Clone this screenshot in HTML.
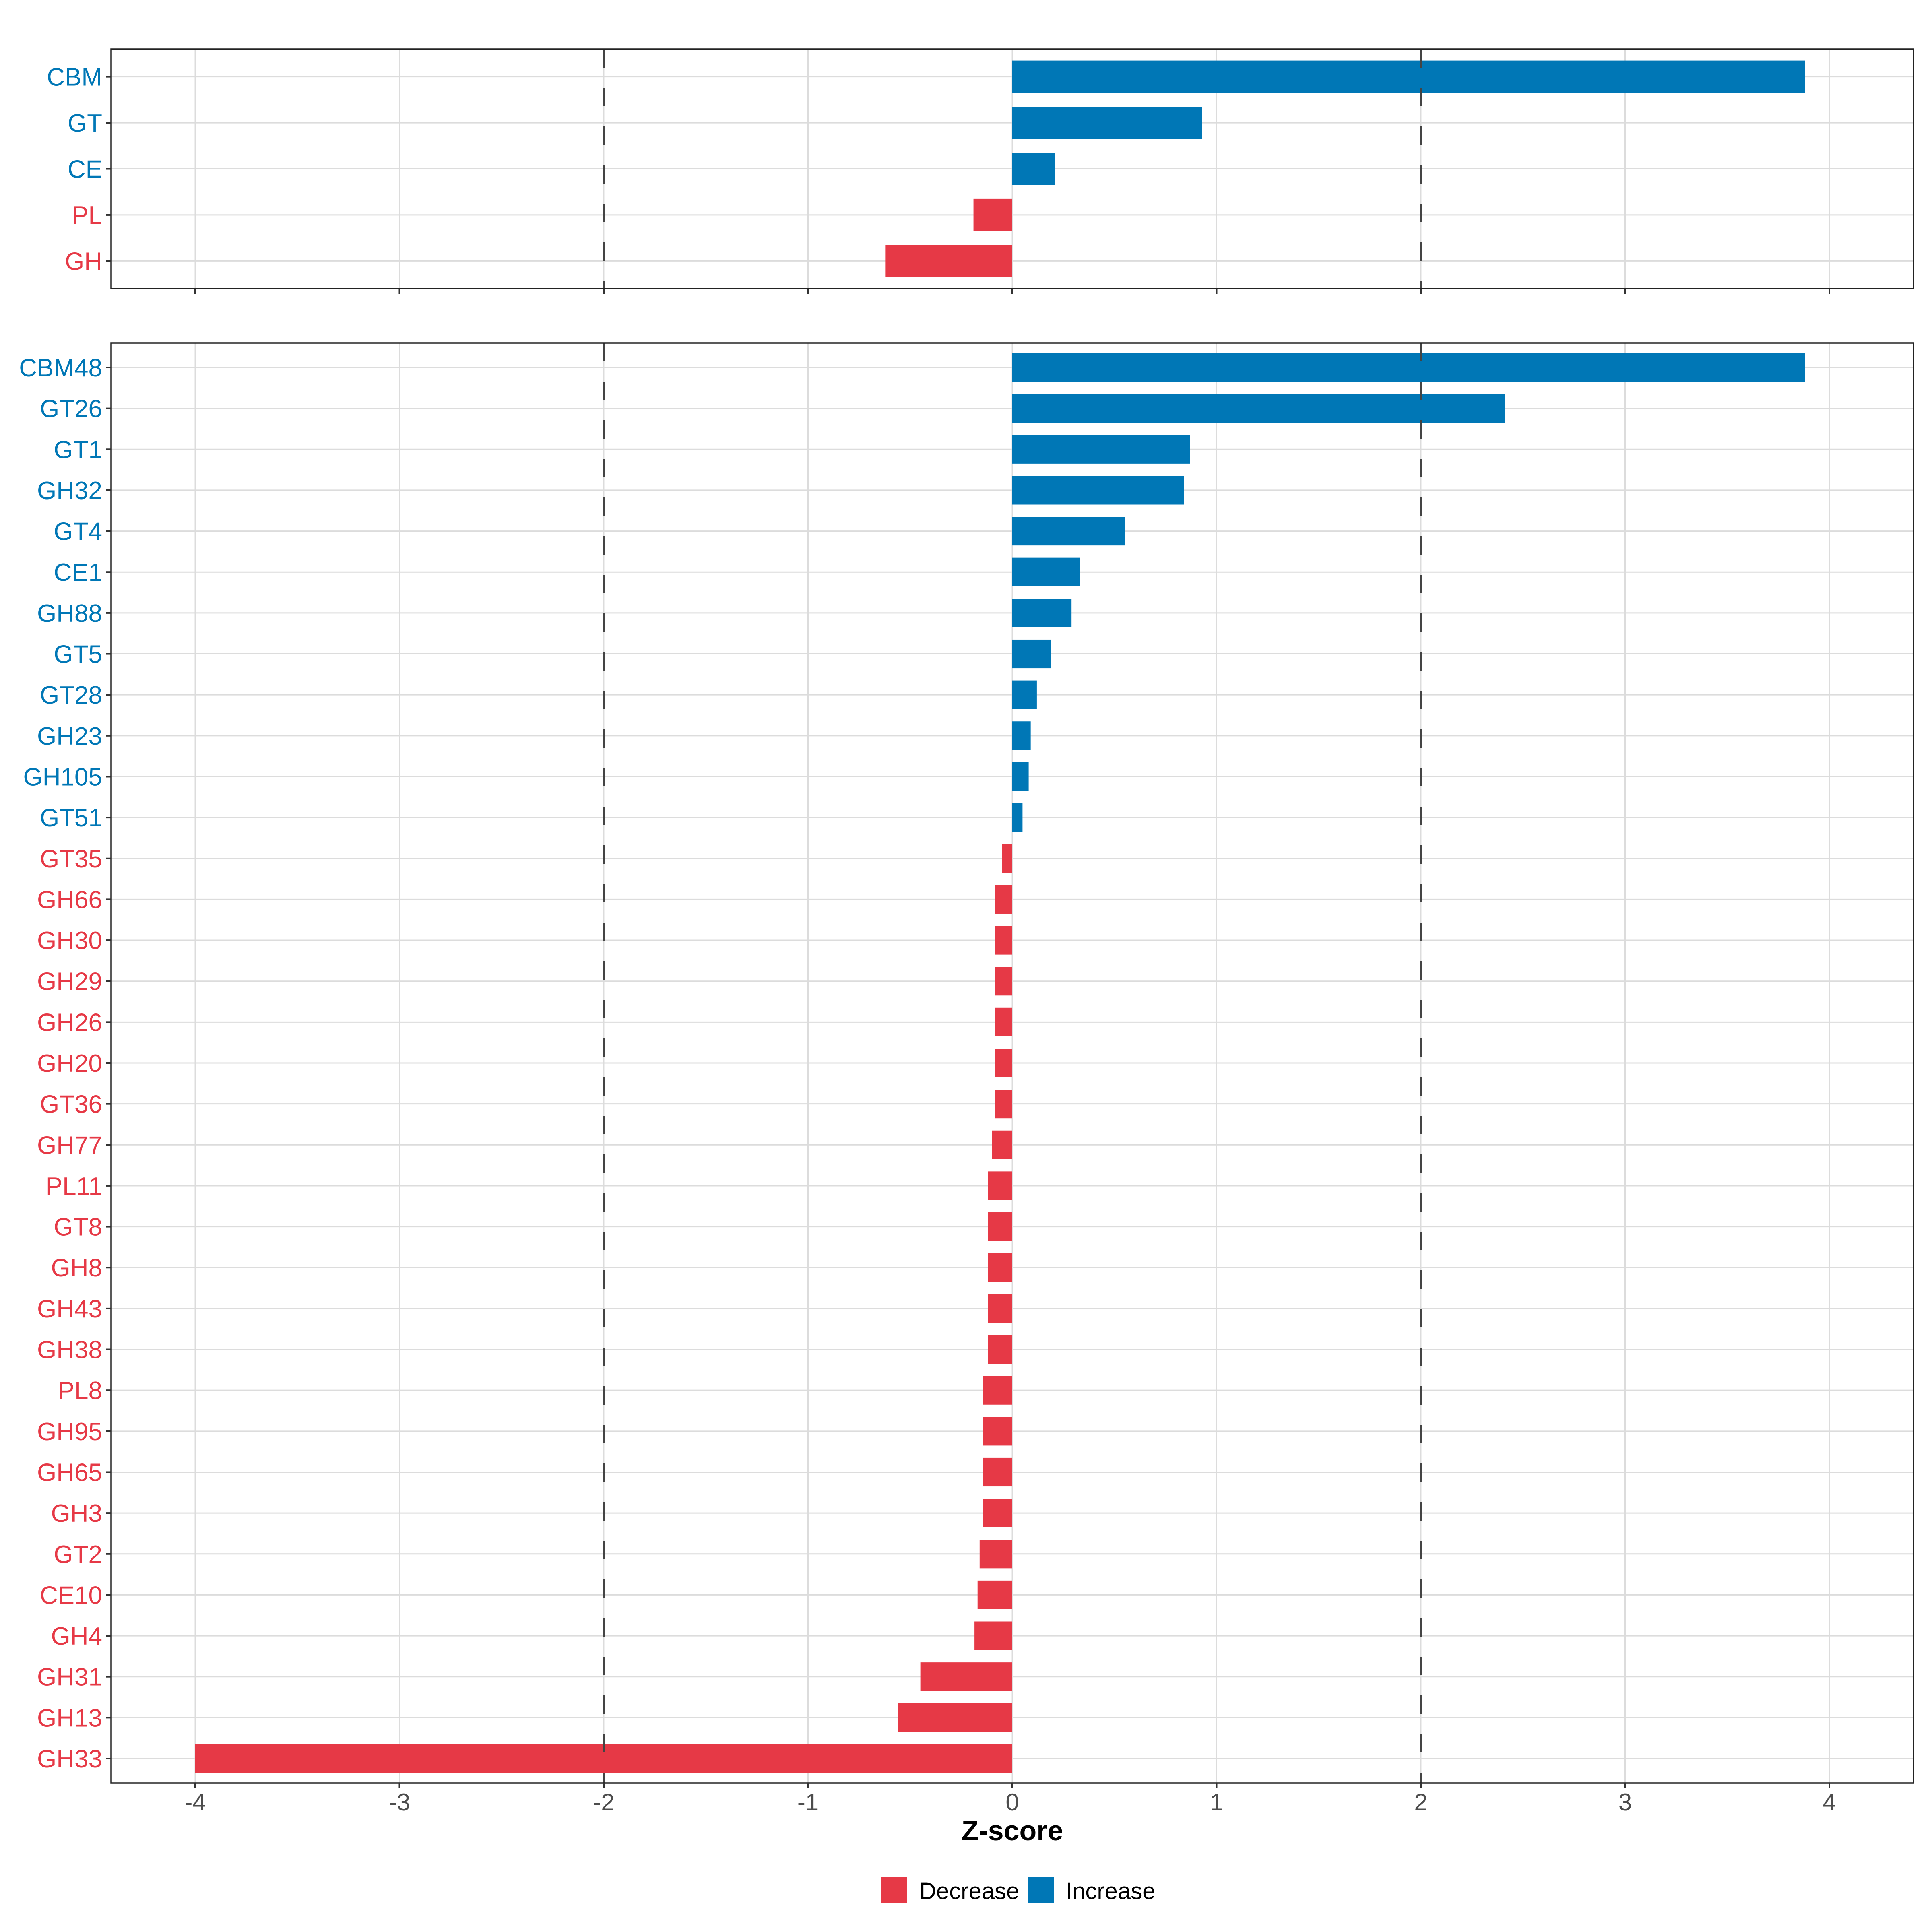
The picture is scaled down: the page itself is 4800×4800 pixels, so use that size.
<!DOCTYPE html>
<html><head><meta charset="utf-8">
<style>
html,body{margin:0;padding:0;background:#fff;}
svg{display:block;font-family:"Liberation Sans",Arial,sans-serif;}
</style></head>
<body>
<svg id="chart" width="4800" height="4800" viewBox="0 0 4800 4800" xmlns="http://www.w3.org/2000/svg"></svg>
<script>
const topCategories = ["CBM","GT","CE","PL","GH"];
const topValues = [3.88,0.93,0.21,-0.19,-0.62];
const bottomCategories = ["CBM48","GT26","GT1","GH32","GT4","CE1","GH88","GT5","GT28","GH23","GH105","GT51","GT35","GH66","GH30","GH29","GH26","GH20","GT36","GH77","PL11","GT8","GH8","GH43","GH38","PL8","GH95","GH65","GH3","GT2","CE10","GH4","GH31","GH13","GH33"];
const bottomValues = [3.88,2.41,0.87,0.84,0.55,0.33,0.29,0.19,0.12,0.09,0.08,0.05,-0.05,-0.085,-0.085,-0.085,-0.085,-0.085,-0.085,-0.10,-0.12,-0.12,-0.12,-0.12,-0.12,-0.145,-0.145,-0.145,-0.145,-0.16,-0.17,-0.185,-0.45,-0.56,-4.0];
const xTicks = [-4,-3,-2,-1,0,1,2,3,4];
const thresholds = [-2,2];

const NS="http://www.w3.org/2000/svg";
const svg=document.getElementById('chart');
const BLUE="#0077B6", RED="#E63946";
const L=276, R=4754;
const xScale=v=>2515+v*507.5;
function mk(tag,attrs,parent){const e=document.createElementNS(NS,tag);for(const k in attrs)e.setAttribute(k,attrs[k]);(parent||svg).appendChild(e);return e;}

function panel(cats,vals,top,bottom,name,showLabels){
  const g=mk('g',{});
  
  
  const n=cats.length;
  const step=(bottom-top)/(n-1+1.2);
  const yScale=i=>top+step*(0.6+i);
  // grid
  xTicks.forEach(t=>{const l=mk('line',{x1:xScale(t),x2:xScale(t),y1:top,y2:bottom,stroke:'#dcdcdc','stroke-width':3},g);
    
    });
  cats.forEach((c,i)=>{const l=mk('line',{x1:L,x2:R,y1:yScale(i),y2:yScale(i),stroke:'#dcdcdc','stroke-width':3},g);
    
    });
  // bars
  const bh=step*0.7;
  vals.forEach((v,i)=>{
    const x0=xScale(Math.min(0,v)), x1=xScale(Math.max(0,v));
    const r=mk('rect',{x:x0,y:yScale(i)-bh/2,width:x1-x0,height:bh,fill:v>=0?BLUE:RED},g);
    
    
  });
  // thresholds
  thresholds.forEach(t=>{const l=mk('line',{x1:xScale(t),x2:xScale(t),y1:top,y2:bottom,stroke:'#444','stroke-width':4,'stroke-dasharray':'46,50'},g);
    
    });
  // frame
  const f=mk('rect',{x:L,y:top,width:R-L,height:bottom-top,fill:'none',stroke:'#222','stroke-width':3.5},g);
  
  
  // y ticks & labels
  cats.forEach((c,i)=>{
    mk('line',{x1:L-13,x2:L,y1:yScale(i),y2:yScale(i),stroke:'#333','stroke-width':4},g);
    const t=mk('text',{x:254,y:yScale(i)+22,'text-anchor':'end','font-size':62,fill:vals[i]>=0?BLUE:RED},g);
    t.textContent=c;
    
    
  });
  // x ticks
  xTicks.forEach(t=>{
    mk('line',{x1:xScale(t),x2:xScale(t),y1:bottom,y2:bottom+13,stroke:'#333','stroke-width':4},g);
    if(showLabels){
      const tx=mk('text',{x:xScale(t),y:bottom+68,'text-anchor':'middle','font-size':60,fill:'#4d4d4d'},g);
      tx.textContent=String(t);
      
      
    }
  });
}
panel(topCategories,topValues,122,717,'top-panel',false);
panel(bottomCategories,bottomValues,852,4430,'bottom-panel',true);

const xt=mk('text',{x:2515,y:4572,'text-anchor':'middle','font-size':70,'font-weight':'bold',fill:'#000'});
xt.textContent='Z-score';



const k1=mk('rect',{x:2190,y:4663,width:64,height:66,fill:RED});


const t1=mk('text',{x:2284,y:4718,'font-size':58,fill:'#000'});t1.textContent='Decrease';


const k2=mk('rect',{x:2555,y:4663,width:64,height:66,fill:BLUE});


const t2=mk('text',{x:2648,y:4718,'font-size':58,fill:'#000'});t2.textContent='Increase';


</script>
</body></html>
